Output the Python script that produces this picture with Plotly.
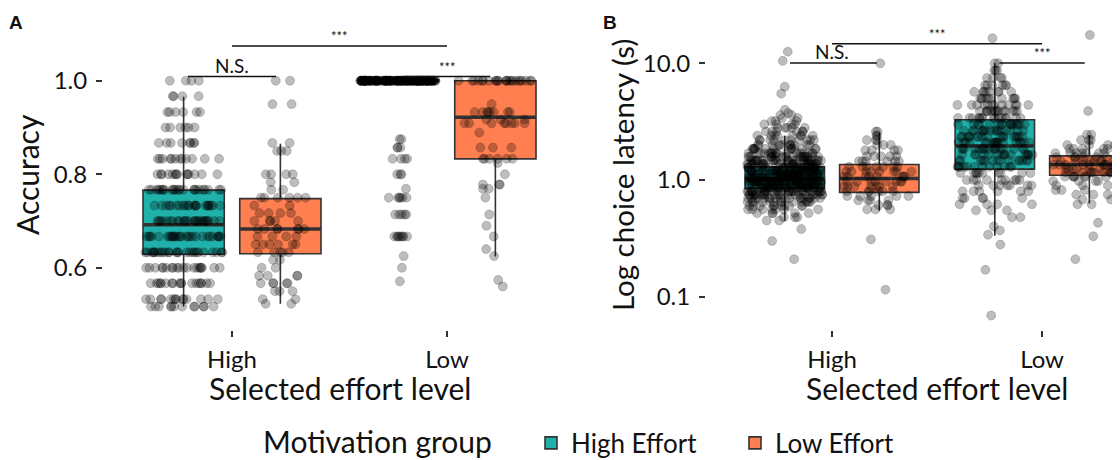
import numpy as np
import plotly.graph_objects as go

cats = ["High", "Low"]
groups = ["High Effort", "Low Effort"]
colors = ["#20B2AA", "#FF7F50"]

# ---- Panel A: accuracy box statistics  [High, Low]
acc_he_q1 = [0.629, 1.0]
acc_he_med = [0.692, 1.0]
acc_he_q3 = [0.766, 1.0]
acc_he_lo = [0.517, 1.0]
acc_he_hi = [0.966, 1.0]

acc_le_q1 = [0.630, 0.833]
acc_le_med = [0.683, 0.922]
acc_le_q3 = [0.748, 1.0]
acc_le_lo = [0.523, 0.624]
acc_le_hi = [0.865, 1.0]

# ---- Panel A: individual accuracy values (levels and counts)
acc_he_high_vals = [1.0, 0.967, 0.933, 0.9, 0.867, 0.833, 0.8, 0.767, 0.733, 0.7, 0.667, 0.633, 0.6, 0.567, 0.533, 0.517]
acc_he_high_cnt = [4, 4, 6, 6, 8, 12, 14, 24, 22, 26, 28, 26, 20, 18, 14, 12]
acc_le_high_vals = [1.0, 0.95, 0.867, 0.85, 0.8, 0.783, 0.767, 0.75, 0.733, 0.717, 0.7, 0.683, 0.667, 0.65, 0.633, 0.617, 0.6, 0.583, 0.567, 0.55, 0.533, 0.523]
acc_le_high_cnt = [2, 2, 2, 3, 4, 2, 2, 6, 2, 4, 5, 7, 4, 6, 5, 2, 2, 4, 5, 3, 2, 2]
acc_he_low_vals = [1.0, 0.875, 0.857, 0.833, 0.8, 0.769, 0.75, 0.714, 0.667, 0.625, 0.6, 0.571]
acc_he_low_cnt = [150, 2, 3, 4, 3, 1, 6, 5, 8, 1, 1, 1]
acc_le_low_vals = [1.0, 0.95, 0.933, 0.917, 0.909, 0.889, 0.857, 0.833, 0.824, 0.8, 0.778, 0.769, 0.75, 0.714, 0.69, 0.667, 0.64, 0.625, 0.574, 0.56]
acc_le_low_cnt = [24, 1, 8, 3, 8, 1, 3, 6, 1, 1, 3, 2, 1, 1, 1, 1, 1, 1, 1, 1]

# ---- Panel B: choice latency box statistics (s)  [High, Low]
lat_he_q1 = [0.843, 1.24]
lat_he_med = [1.02, 1.96]
lat_he_q3 = [1.30, 3.29]
lat_he_lo = [0.446, 0.333]
lat_he_hi = [2.38, 10.0]

lat_le_q1 = [0.784, 1.10]
lat_le_med = [1.03, 1.36]
lat_le_q3 = [1.36, 1.61]
lat_le_lo = [0.546, 0.63]
lat_le_hi = [2.54, 2.43]

# ---- Panel B: individual latency values (levels and counts)
lat_he_high_vals = [12.6, 10.5, 6.3, 5.5, 4.0, 3.75, 3.6, 3.4, 3.2, 3.0, 2.8, 2.6, 2.4, 2.2, 2.0, 1.85, 1.7, 1.58, 1.47, 1.37, 1.28, 1.2, 1.12, 1.05, 0.98, 0.92, 0.86, 0.8, 0.75, 0.7, 0.65, 0.6, 0.56, 0.52, 0.48, 0.45, 0.38, 0.30, 0.21]
lat_he_high_cnt = [1, 1, 1, 1, 1, 1, 2, 2, 3, 4, 5, 6, 8, 10, 12, 14, 18, 20, 24, 26, 28, 30, 32, 34, 34, 32, 30, 26, 22, 18, 14, 10, 7, 5, 3, 2, 1, 1, 1]
lat_le_high_vals = [10.0, 2.6, 2.4, 2.2, 2.0, 1.8, 1.6, 1.45, 1.3, 1.18, 1.07, 0.97, 0.88, 0.8, 0.73, 0.67, 0.61, 0.56, 0.31, 0.115]
lat_le_high_cnt = [1, 2, 2, 3, 3, 4, 5, 6, 7, 8, 8, 8, 7, 6, 5, 4, 3, 3, 1, 1]
lat_he_low_vals = [16.4, 10.0, 8.7, 7.5, 6.5, 5.7, 5.0, 4.4, 3.9, 3.4, 3.0, 2.65, 2.35, 2.1, 1.85, 1.65, 1.47, 1.3, 1.15, 1.0, 0.9, 0.8, 0.7, 0.62, 0.55, 0.48, 0.4, 0.37, 0.34, 0.28, 0.17, 0.069]
lat_he_low_cnt = [1, 2, 3, 4, 6, 8, 10, 12, 14, 15, 16, 16, 17, 18, 17, 15, 14, 12, 10, 9, 7, 6, 5, 4, 3, 2, 1, 1, 1, 1, 1, 1]
lat_le_low_vals = [17.5, 3.9, 2.45, 2.2, 2.0, 1.85, 1.7, 1.57, 1.45, 1.35, 1.25, 1.16, 1.07, 0.98, 0.9, 0.82, 0.75, 0.68, 0.62, 0.43, 0.33, 0.21]
lat_le_low_cnt = [1, 1, 2, 3, 4, 5, 7, 9, 10, 11, 10, 9, 8, 6, 5, 4, 3, 2, 2, 1, 1, 1]

# ---- significance labels
sig_A = ["N.S.", "***", "***"]
sig_B = ["N.S.", "***", "***"]

FONT = "Lato"
BOX_LINE = "#333333"
PT_COLOR = "rgba(0,0,0,0.26)"
PT_LINE = "rgba(0,0,0,0.22)"

def expand(cat, vals, cnts):
    y = np.repeat(np.array(vals, dtype=float), cnts)
    return [cat] * len(y), y

fig = go.Figure()

def add_panel(xa, ya, stats, pts, show_legend):
    # boxes
    for gi, (g, col) in enumerate(zip(groups, colors)):
        q1, med, q3, lo, hi = stats[gi]
        fig.add_trace(go.Box(
            x=cats, q1=q1, median=med, q3=q3, lowerfence=lo, upperfence=hi,
            name=g, legendgroup=g, showlegend=show_legend,
            fillcolor=col, line=dict(color=BOX_LINE, width=1.6),
            whiskerwidth=0, boxpoints=False,
            offsetgroup=g, alignmentgroup="a" + xa,
            xaxis=xa, yaxis=ya, hoverinfo="skip",
        ))
    # thicker median bars (collapsed boxes at the median)
    for gi, g in enumerate(groups):
        q1, med, q3, lo, hi = stats[gi]
        fig.add_trace(go.Box(
            x=cats, q1=med, median=med, q3=med, lowerfence=med, upperfence=med,
            name=g, legendgroup=g, showlegend=False,
            fillcolor="rgba(0,0,0,0)", line=dict(color=BOX_LINE, width=3.6),
            whiskerwidth=0, boxpoints=False,
            offsetgroup=g, alignmentgroup="a" + xa,
            xaxis=xa, yaxis=ya, hoverinfo="skip",
        ))
    # jittered points
    for gi, g in enumerate(groups):
        xs, ys = [], []
        for ci, cat in enumerate(cats):
            v, c = pts[gi][ci]
            xx, yy = expand(cat, v, c)
            xs += xx
            ys += list(yy)
        fig.add_trace(go.Box(
            x=xs, y=ys, name=g, legendgroup=g, showlegend=False,
            boxpoints="all", jitter=0.95, pointpos=0,
            fillcolor="rgba(0,0,0,0)", line=dict(color="rgba(0,0,0,0)", width=0),
            whiskerwidth=0,
            marker=dict(color=PT_COLOR, size=9, line=dict(color=PT_LINE, width=0.8)),
            offsetgroup=g, alignmentgroup="a" + xa,
            xaxis=xa, yaxis=ya, hoverinfo="skip",
        ))

add_panel("x", "y",
          [(acc_he_q1, acc_he_med, acc_he_q3, acc_he_lo, acc_he_hi),
           (acc_le_q1, acc_le_med, acc_le_q3, acc_le_lo, acc_le_hi)],
          [[(acc_he_high_vals, acc_he_high_cnt), (acc_he_low_vals, acc_he_low_cnt)],
           [(acc_le_high_vals, acc_le_high_cnt), (acc_le_low_vals, acc_le_low_cnt)]],
          True)
add_panel("x2", "y2",
          [(lat_he_q1, lat_he_med, lat_he_q3, lat_he_lo, lat_he_hi),
           (lat_le_q1, lat_le_med, lat_le_q3, lat_le_lo, lat_le_hi)],
          [[(lat_he_high_vals, lat_he_high_cnt), (lat_he_low_vals, lat_he_low_cnt)],
           [(lat_le_high_vals, lat_le_high_cnt), (lat_le_low_vals, lat_le_low_cnt)]],
          False)

# the page body has an 8px margin: paper origin sits at screen (8, 8)
OFF = 8
W, H = 1120 - OFF, 460 - OFF
def px_x(p): return (p - OFF) / W
def px_y(p): return 1 - (p - OFF) / H

ydom = [px_y(330), px_y(19)]
axis_common = dict(showgrid=False, zeroline=False, showline=False, ticks="outside",
                   ticklen=6, tickwidth=2, tickcolor="#333333", automargin=False,
                   tickfont=dict(family=FONT, size=24, color="#111111"))

fig.update_layout(
    width=W, height=H, margin=dict(l=0, r=0, t=0, b=0, autoexpand=False),
    paper_bgcolor="white", plot_bgcolor="white",
    boxmode="group", boxgap=0.1, boxgroupgap=0.16,
    font=dict(family=FONT, color="#111111"),
    xaxis=dict(domain=[px_x(103), px_x(576)], anchor="y", type="category",
               categoryorder="array", categoryarray=cats, range=[-0.6, 1.6],
               ticklabelstandoff=2, **axis_common),
    yaxis=dict(domain=ydom, anchor="x", range=[0.467, 1.132],
               tickvals=[0.6, 0.8, 1.0], ticktext=["0.6", "0.8", "1.0"],
               ticklabelstandoff=4, **axis_common),
    xaxis2=dict(domain=[px_x(706), 1.0], anchor="y2", type="category",
                categoryorder="array", categoryarray=cats, range=[-0.6, 1.371],
                ticklabelstandoff=2, **axis_common),
    yaxis2=dict(domain=ydom, anchor="x2", type="log", range=[-1.285, 1.38],
                tickvals=[0.1, 1, 10], ticktext=["0.1", "1.0", "10.0"],
                ticklabelstandoff=4, **axis_common),
    legend=dict(orientation="h", x=px_x(531), xanchor="left", y=px_y(443), yanchor="middle",
                font=dict(family=FONT, size=26), itemwidth=30, traceorder="normal",
                entrywidth=159, entrywidthmode="pixels", bgcolor="rgba(0,0,0,0)"),
    showlegend=True,
)

# significance brackets (shapes use data values)
def bracket(xref, yref, x0, x1, y):
    fig.add_shape(type="line", xref=xref, yref=yref, x0=x0, x1=x1, y0=y, y1=y,
                  line=dict(color="#111111", width=1.5))

bracket("x", "y", -0.205, 0.205, 1.009)
bracket("x", "y", 0.0, 1.0, 1.074)
bracket("x", "y", 0.795, 1.2, 1.009)
bracket("x2", "y2", -0.2, 0.213, 10.07)
bracket("x2", "y2", 0.0, 1.0, 14.7)
bracket("x2", "y2", 0.797, 1.203, 10.07)

ann = []
def label(xref, yref, x, y, text, size, shift):
    ann.append(dict(xref=xref, yref=yref, x=x, y=y, text=text, showarrow=False, yshift=shift,
                    xanchor="center", yanchor="bottom", font=dict(family=FONT, size=size, color="#111111")))

label("x", "y", 0.0, 1.009, sig_A[0], 19, -2)
label("x", "y", 0.5, 1.074, sig_A[1], 13, 0)
label("x", "y", 1.0, 1.009, sig_A[2], 13, 0)
label("x2", "y2", 0.0, np.log10(10.07), sig_B[0], 19, -2)
label("x2", "y2", 0.5, np.log10(14.7), sig_B[1], 13, 0)
label("x2", "y2", 1.0, np.log10(10.07), sig_B[2], 13, 0)

# axis titles
ann.append(dict(xref="paper", yref="paper", x=px_x(27), y=px_y(175), text="Accuracy", textangle=-90,
                showarrow=False, xanchor="center", yanchor="middle", font=dict(family=FONT, size=30)))
ann.append(dict(xref="paper", yref="paper", x=px_x(622), y=px_y(175), text="Log choice latency (s)", textangle=-90,
                showarrow=False, xanchor="center", yanchor="middle", font=dict(family=FONT, size=29.5)))
ann.append(dict(xref="paper", yref="paper", x=px_x(339.5), y=px_y(388), text="Selected effort level",
                showarrow=False, xanchor="center", yanchor="middle", font=dict(family=FONT, size=30)))
ann.append(dict(xref="paper", yref="paper", x=px_x(937), y=px_y(388), text="Selected effort level",
                showarrow=False, xanchor="center", yanchor="middle", font=dict(family=FONT, size=30)))
# legend title
ann.append(dict(xref="paper", yref="paper", x=px_x(377), y=px_y(440.5), text="Motivation group",
                showarrow=False, xanchor="center", yanchor="middle", font=dict(family=FONT, size=30)))
# panel tags
ann.append(dict(xref="paper", yref="paper", x=px_x(16), y=px_y(23), text="<b>A</b>",
                showarrow=False, xanchor="center", yanchor="middle", font=dict(family="Liberation Sans", size=19)))
ann.append(dict(xref="paper", yref="paper", x=px_x(610), y=px_y(23), text="<b>B</b>",
                showarrow=False, xanchor="center", yanchor="middle", font=dict(family="Liberation Sans", size=19)))

fig.update_layout(annotations=ann)
fig.write_html("out.html")
